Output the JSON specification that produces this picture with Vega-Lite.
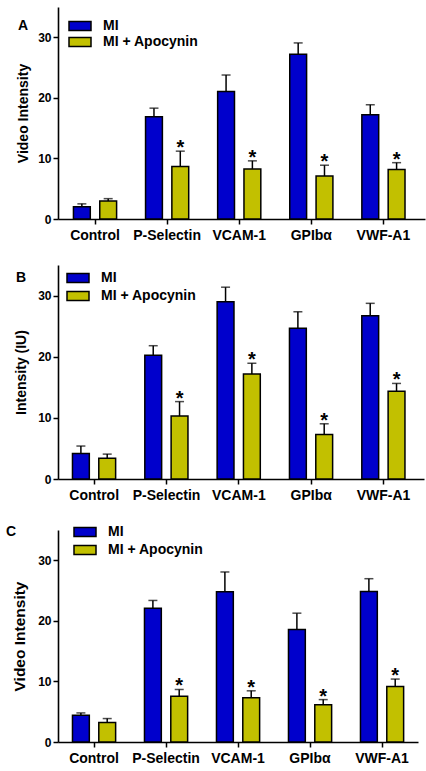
{
  "$schema": "https://vega.github.io/schema/vega-lite/v6.json",
  "padding": {"left": 6, "top": 7, "right": 5, "bottom": 5},
  "autosize": {"type": "pad"},
  "datasets": {
    "A": [
      {"target": "Control", "group": "MI", "value": 2.04, "err": 2.5, "sig": ""},
      {"target": "Control", "group": "MI + Apocynin", "value": 2.98, "err": 3.36, "sig": ""},
      {"target": "P-Selectin", "group": "MI", "value": 16.9, "err": 18.3, "sig": ""},
      {"target": "P-Selectin", "group": "MI + Apocynin", "value": 8.66, "err": 11.2, "sig": "*"},
      {"target": "VCAM-1", "group": "MI", "value": 21.07, "err": 23.77, "sig": ""},
      {"target": "VCAM-1", "group": "MI + Apocynin", "value": 8.27, "err": 9.6, "sig": "*"},
      {"target": "GPIbα", "group": "MI", "value": 27.2, "err": 29.07, "sig": ""},
      {"target": "GPIbα", "group": "MI + Apocynin", "value": 7.1, "err": 8.88, "sig": "*"},
      {"target": "VWF-A1", "group": "MI", "value": 17.2, "err": 18.86, "sig": ""},
      {"target": "VWF-A1", "group": "MI + Apocynin", "value": 8.16, "err": 9.3, "sig": "*"}
    ],
    "B": [
      {"target": "Control", "group": "MI", "value": 4.18, "err": 5.39, "sig": ""},
      {"target": "Control", "group": "MI + Apocynin", "value": 3.41, "err": 4.07, "sig": ""},
      {"target": "P-Selectin", "group": "MI", "value": 20.25, "err": 21.8, "sig": ""},
      {"target": "P-Selectin", "group": "MI + Apocynin", "value": 10.29, "err": 12.66, "sig": "*"},
      {"target": "VCAM-1", "group": "MI", "value": 29.0, "err": 31.37, "sig": ""},
      {"target": "VCAM-1", "group": "MI + Apocynin", "value": 17.17, "err": 18.93, "sig": "*"},
      {"target": "GPIbα", "group": "MI", "value": 24.66, "err": 27.35, "sig": ""},
      {"target": "GPIbα", "group": "MI + Apocynin", "value": 7.26, "err": 9.03, "sig": "*"},
      {"target": "VWF-A1", "group": "MI", "value": 26.69, "err": 28.73, "sig": ""},
      {"target": "VWF-A1", "group": "MI + Apocynin", "value": 14.36, "err": 15.63, "sig": "*"}
    ],
    "C": [
      {"target": "Control", "group": "MI", "value": 4.42, "err": 4.8, "sig": ""},
      {"target": "Control", "group": "MI + Apocynin", "value": 3.2, "err": 3.87, "sig": ""},
      {"target": "P-Selectin", "group": "MI", "value": 22.1, "err": 23.37, "sig": ""},
      {"target": "P-Selectin", "group": "MI + Apocynin", "value": 7.57, "err": 8.67, "sig": "*"},
      {"target": "VCAM-1", "group": "MI", "value": 24.8, "err": 28.07, "sig": ""},
      {"target": "VCAM-1", "group": "MI + Apocynin", "value": 7.29, "err": 8.45, "sig": "*"},
      {"target": "GPIbα", "group": "MI", "value": 18.56, "err": 21.27, "sig": ""},
      {"target": "GPIbα", "group": "MI + Apocynin", "value": 6.13, "err": 7.0, "sig": "*"},
      {"target": "VWF-A1", "group": "MI", "value": 24.86, "err": 26.96, "sig": ""},
      {"target": "VWF-A1", "group": "MI + Apocynin", "value": 9.17, "err": 10.39, "sig": "*"}
    ]
  },
  "concat": [
    {
      "width": 367,
      "height": 212,
      "data": {"name": "A"},
      "encoding": {
        "x": {"field": "target", "type": "nominal", "sort": ["Control", "P-Selectin", "VCAM-1", "GPIbα", "VWF-A1"], "scale": {"paddingInner": 0, "paddingOuter": 0.045, "align": 0.15}, "axis": {"title": null}},
        "xOffset": {"field": "group", "type": "nominal", "scale": {"paddingInner": 0.36, "paddingOuter": 0.55}}
      },
      "layer": [
        {
          "mark": {"type": "bar", "stroke": "black", "strokeWidth": 1.5},
          "encoding": {
            "y": {"field": "value", "type": "quantitative", "title": "Video Intensity", "scale": {"domain": [0, 35], "nice": false}, "axis": {"values": [0, 10, 20, 30], "titlePadding": 7.5}},
            "color": {"field": "group", "type": "nominal", "scale": {"domain": ["MI", "MI + Apocynin"], "range": ["#0000CC", "#C2C000"]}, "legend": {"title": "A", "titlePadding": 44, "legendX": -40, "legendY": 12, "rowPadding": 0}}
          }
        },
        {
          "mark": {"type": "rule", "color": "black", "strokeWidth": 1.5},
          "encoding": {"y": {"field": "value", "type": "quantitative", "title": "Video Intensity"}, "y2": {"field": "err"}}
        },
        {
          "mark": {"type": "tick", "color": "black", "thickness": 1.5, "size": 9},
          "encoding": {"y": {"field": "err", "type": "quantitative", "title": "Video Intensity"}}
        },
        {
          "mark": {"type": "text", "fontSize": 20, "fontWeight": "bold", "baseline": "alphabetic", "dy": 3, "color": "black"},
          "encoding": {"y": {"field": "err", "type": "quantitative", "title": "Video Intensity"}, "text": {"field": "sig"}}
        }
      ]
    },
    {
      "width": 366,
      "height": 214,
      "data": {"name": "B"},
      "encoding": {
        "x": {"field": "target", "type": "nominal", "sort": ["Control", "P-Selectin", "VCAM-1", "GPIbα", "VWF-A1"], "scale": {"paddingInner": 0, "paddingOuter": 0.03, "align": 0}, "axis": {"title": null}},
        "xOffset": {"field": "group", "type": "nominal", "scale": {"paddingInner": 0.36, "paddingOuter": 0.55}}
      },
      "layer": [
        {
          "mark": {"type": "bar", "stroke": "black", "strokeWidth": 1.5},
          "encoding": {
            "y": {"field": "value", "type": "quantitative", "title": "Intensity (IU)", "scale": {"domain": [0, 35], "nice": false}, "axis": {"values": [0, 10, 20, 30], "titlePadding": 9.5}},
            "color": {"field": "group", "type": "nominal", "scale": {"domain": ["MI", "MI + Apocynin"], "range": ["#0000CC", "#C2C000"]}, "legend": {"title": "B", "titlePadding": 44, "legendX": -42, "legendY": 6, "rowPadding": 2}}
          }
        },
        {
          "mark": {"type": "rule", "color": "black", "strokeWidth": 1.5},
          "encoding": {"y": {"field": "value", "type": "quantitative", "title": "Intensity (IU)"}, "y2": {"field": "err"}}
        },
        {
          "mark": {"type": "tick", "color": "black", "thickness": 1.5, "size": 9},
          "encoding": {"y": {"field": "err", "type": "quantitative", "title": "Intensity (IU)"}}
        },
        {
          "mark": {"type": "text", "fontSize": 20, "fontWeight": "bold", "baseline": "alphabetic", "dy": 3, "color": "black"},
          "encoding": {"y": {"field": "err", "type": "quantitative", "title": "Intensity (IU)"}, "text": {"field": "sig"}}
        }
      ]
    },
    {
      "width": 360,
      "height": 212,
      "data": {"name": "C"},
      "encoding": {
        "x": {"field": "target", "type": "nominal", "sort": ["Control", "P-Selectin", "VCAM-1", "GPIbα", "VWF-A1"], "scale": {"paddingInner": 0, "paddingOuter": 0}, "axis": {"title": null}},
        "xOffset": {"field": "group", "type": "nominal", "scale": {"paddingInner": 0.36, "paddingOuter": 0.55}}
      },
      "layer": [
        {
          "mark": {"type": "bar", "stroke": "black", "strokeWidth": 1.5},
          "encoding": {
            "y": {"field": "value", "type": "quantitative", "title": "Video Intensity", "scale": {"domain": [0, 35], "nice": false}, "axis": {"values": [0, 10, 20, 30], "titlePadding": 10.5, "titleFontSize": 15.5}},
            "color": {"field": "group", "type": "nominal", "scale": {"domain": ["MI", "MI + Apocynin"], "range": ["#0000CC", "#C2C000"]}, "legend": {"title": " C", "titlePadding": 61, "legendX": -52, "legendY": -5, "rowPadding": 2}}
          }
        },
        {
          "mark": {"type": "rule", "color": "black", "strokeWidth": 1.5},
          "encoding": {"y": {"field": "value", "type": "quantitative", "title": "Video Intensity"}, "y2": {"field": "err"}}
        },
        {
          "mark": {"type": "tick", "color": "black", "thickness": 1.5, "size": 9},
          "encoding": {"y": {"field": "err", "type": "quantitative", "title": "Video Intensity"}}
        },
        {
          "mark": {"type": "text", "fontSize": 20, "fontWeight": "bold", "baseline": "alphabetic", "dy": 3, "color": "black"},
          "encoding": {"y": {"field": "err", "type": "quantitative", "title": "Video Intensity"}, "text": {"field": "sig"}}
        }
      ]
    }
  ],
  "columns": 1,
  "align": "none",
  "spacing": 23,
  "resolve": {"scale": {"color": "independent"}, "legend": {"color": "independent"}},
  "config": {
    "font": "Liberation Sans",
    "view": {"stroke": null},
    "axis": {"domainColor": "black", "domainWidth": 1.6, "tickColor": "black", "tickWidth": 1.5, "tickSize": 5, "labelColor": "black", "labelFontWeight": "bold", "titleColor": "black", "titleFontWeight": "bold", "grid": false, "labelFont": "Liberation Sans", "titleFont": "Liberation Sans"},
    "axisX": {"labelFontSize": 14, "labelAngle": 0, "labelPadding": 4},
    "axisY": {"labelFontSize": 12, "labelPadding": 2, "titleFontSize": 14},
    "legend": {"orient": "none", "symbolType": "M-2.2,-0.9H2.2V0.9H-2.2Z", "symbolSize": 100, "symbolStrokeColor": "black", "symbolStrokeWidth": 1.5, "labelFontSize": 14, "labelFontWeight": "bold", "labelColor": "black", "labelFont": "Liberation Sans", "labelOffset": 16, "padding": 0, "titleOrient": "left", "titleAnchor": "start", "titleBaseline": "top", "titleFontSize": 14, "titleFontWeight": "bold", "titleColor": "black", "titleFont": "Liberation Sans"}
  }
}
